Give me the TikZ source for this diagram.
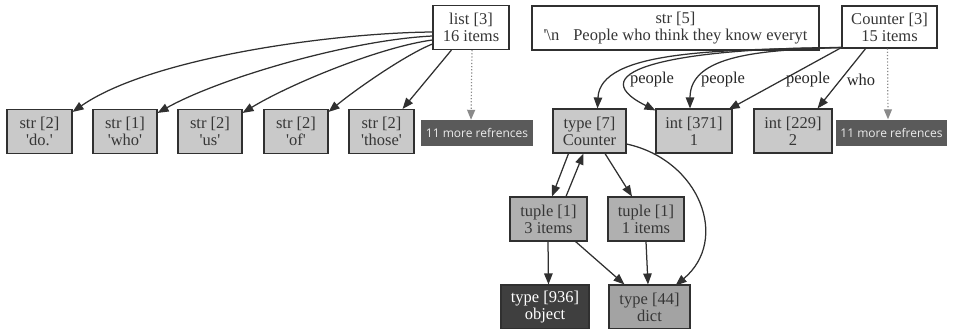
\documentclass[tikz,border=0pt]{standalone}
\usepackage{fontspec}
\setmainfont{Liberation Serif}
\newfontfamily\refsans{Open Sans}
\usetikzlibrary{arrows.meta}

\definecolor{ink}{HTML}{303030}
\definecolor{txt}{HTML}{363636}
\definecolor{lightfill}{HTML}{C9C9C9}
\definecolor{midfill}{HTML}{B0B0B0}
\definecolor{dictfill}{HTML}{A3A3A3}
\definecolor{darkfill}{HTML}{3F3F3F}
\definecolor{morefill}{HTML}{5A5A5A}
\definecolor{dotgray}{HTML}{8A8A8A}

\tikzset{
  obj/.style={draw=ink, line width=1.1pt, minimum height=44pt, inner sep=0pt,
    align=center, text=txt, font=\fontsize{16.5}{17}\selectfont},
  plain/.style={obj, fill=white},
  light/.style={obj, fill=lightfill},
  mid/.style={obj, fill=midfill},
  dictbox/.style={obj, fill=dictfill},
  darkbox/.style={obj, fill=darkfill, text=white},
  more/.style={fill=morefill, text=white!92!black, minimum height=26pt,
    inner sep=0pt, font=\refsans\fontsize{12}{14}\selectfont},
  ref/.style={draw=ink, line width=1.25pt, -{Triangle[length=11pt,width=8.5pt]}},
  extra/.style={draw=dotgray, line width=1.2pt, dotted,
    -{Triangle[length=10pt,width=8pt,fill=dotgray]}},
  lbl/.style={inner sep=0pt, text=black!85, font=\fontsize{16.5}{17}\selectfont}
}

\begin{document}
\begin{tikzpicture}[x=1pt,y=-1pt]
\useasboundingbox (0,0) rectangle (953,329);

% top row: referrers
\node[plain, minimum width=76pt] (lst) at (471,27.5) {list [3]\\16 items};
\node[plain, minimum width=287pt] (s5) at (675.5,28)
  {str [5]\\\textquotesingle\textbackslash n\hspace{14pt}People who think they know everyt};
\node[plain, minimum width=95pt, minimum height=42pt] (ctr) at (889.5,27) {Counter [3]\\15 items};

% middle row: strings
\node[light, minimum width=65pt] (w1) at (39.5,131.5) {str [2]\\\textquotesingle do.\textquotesingle};
\node[light, minimum width=64pt] (w2) at (125,131.5) {str [1]\\\textquotesingle who\textquotesingle};
\node[light, minimum width=64pt] (w3) at (210,131.5) {str [2]\\\textquotesingle us\textquotesingle};
\node[light, minimum width=64pt] (w4) at (296,131.5) {str [2]\\\textquotesingle of\textquotesingle};
\node[light, minimum width=65pt] (w5) at (381.5,131.5) {str [2]\\\textquotesingle those\textquotesingle};
\node[more, minimum width=112pt] (m1) at (477,133) {11 more refrences};

% middle row: counter side
\node[light, minimum width=73pt] (t7) at (589.5,131) {type [7]\\Counter};
\node[light, minimum width=76pt] (i371) at (694,131) {int [371]\\1};
\node[light, minimum width=78pt] (i229) at (793,131) {int [229]\\2};
\node[more, minimum width=111pt] (m2) at (891.5,132.5) {11 more refrences};

% lower rows
\node[mid, minimum width=77pt] (tp3) at (548.5,219) {tuple [1]\\3 items};
\node[mid, minimum width=76pt] (tp1) at (646,219) {tuple [1]\\1 items};
\node[darkbox, minimum width=88pt] (tobj) at (545,307) {type [936]\\object};
\node[dictbox, minimum width=81pt] (tdict) at (649.5,307) {type [44]\\dict};

% list references
\draw[ref] ([yshift=-4.5pt]lst.west) .. controls (330,33) and (150,58) .. ([yshift=-3pt]w1.north east);
\draw[ref] ([yshift=-8.5pt]lst.west) .. controls (350,40) and (220,78) .. ([yshift=-4pt]w2.north east);
\draw[ref] ([yshift=-12.5pt]lst.west) .. controls (380,47) and (290,84) .. ([yshift=-4pt]w3.north east);
\draw[ref] ([yshift=-16.5pt]lst.west) .. controls (405,55) and (355,90) .. ([yshift=-3pt]w4.north east);
\draw[ref] ([xshift=19pt]lst.south west) -- ([xshift=-12pt]w5.north east);
\draw[extra] ([xshift=1pt]lst.south) -- (m1.north -| lst.south);

% Counter references
\draw[ref] ([yshift=1pt]ctr.south west) .. controls (720,50) and (600,50) .. ([xshift=8pt]t7.north);
\draw[ref] ([yshift=1pt]ctr.south west) .. controls (680,48) and (575,70) .. ([yshift=-2pt]i371.north west);
\draw[ref] ([yshift=1pt]ctr.south west) .. controls (760,50) and (690,55) .. ([xshift=-4pt]i371.north);
\draw[ref] ([yshift=1pt]ctr.south west) -- ([xshift=-4pt,yshift=-1pt]i371.north east);
\draw[ref] ([xshift=25pt,yshift=1pt]ctr.south west) -- ([xshift=-15pt]i229.north east);
\draw[extra] ([xshift=-2pt]ctr.south) -- ([xshift=-3.5pt]m2.north);

\node[lbl] (p1) at (652,80) {people};
\node[lbl] (p2) at (723,80) {people};
\node[lbl] (p3) at (808,80) {people};
\node[lbl] (p4) at (861,80) {who};

% type / tuple structure
\draw[ref] ([xshift=-21pt]t7.south) -- ([xshift=3.5pt]tp3.north);
\draw[ref] ([xshift=17.5pt]tp3.north) -- ([xshift=-6pt]t7.south);
\draw[ref] ([xshift=15.5pt]t7.south) -- ([xshift=-14pt]tp1.north);
\draw[ref] ([yshift=-13pt]t7.east) .. controls (700,160) and (730,240) .. ([xshift=-15pt,yshift=-1pt]tdict.north east);
\draw[ref] ([xshift=-0.5pt]tp3.south) -- (tobj.north -| tp3.south);
\draw[ref] ([xshift=-12pt]tp3.south east) -- ([xshift=-25pt]tdict.north);
\draw[ref] (tp1.south) -- ([xshift=-1.5pt]tdict.north);
\end{tikzpicture}
\end{document}
